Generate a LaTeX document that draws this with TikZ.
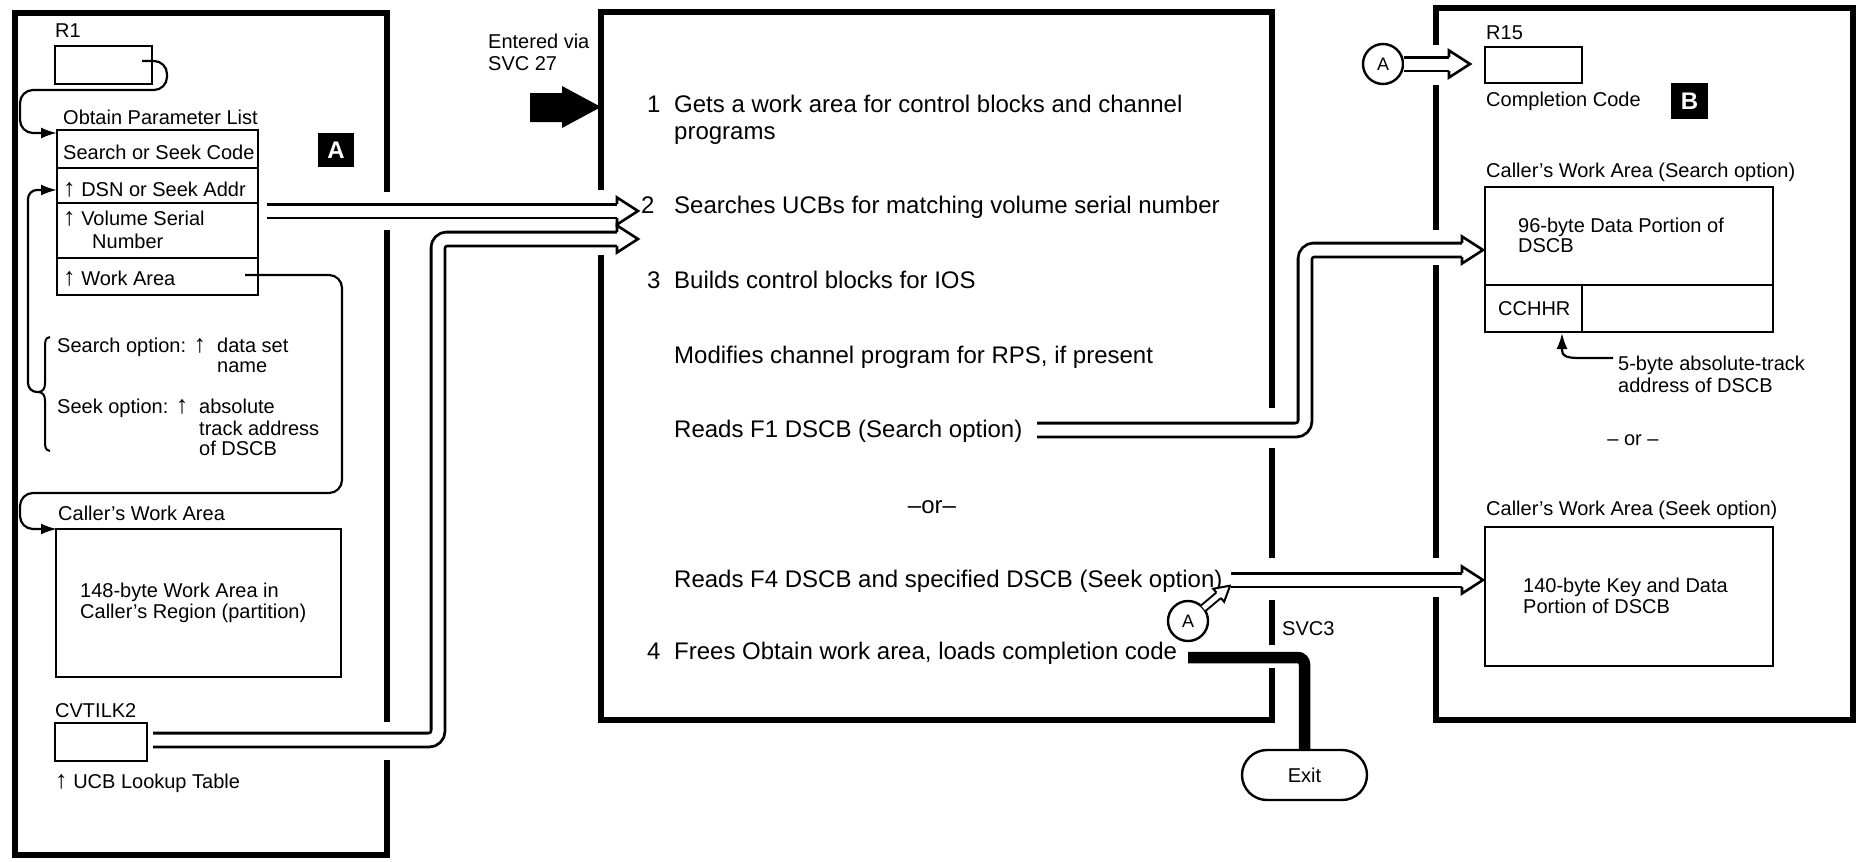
\documentclass[tikz,border=0pt]{standalone}
\usepackage{fontspec}
\setmainfont{Liberation Sans}
\usetikzlibrary{arrows.meta}
\newcommand\lrf{\fontsize{20}{21}\selectfont}
\newcommand\mdf{\fontsize{24}{26}\selectfont}
\newcommand\uarr{{\fontsize{25}{20}\selectfont ↑}}
\newcommand\hollowtip[2]{%
  \begin{scope}[shift={(#1)}, rotate=#2]
    \filldraw[fill=white, draw=black, line width=2.6, line join=miter] (-21,-7) -- (-21,-13.5) -- (0,0) -- (-21,13.5) -- (-21,7);
  \end{scope}}
\begin{document}
\begin{tikzpicture}[x=1pt,y=-1pt,
  frame/.style={line width=5.8, line join=miter},
  box/.style={draw, line width=2.4, inner sep=0, outer sep=0, anchor=north west},
  txt/.style={anchor=base west, inner sep=0, font=\lrf},
  mtxt/.style={anchor=base west, inner sep=0, font=\mdf},
  shaft/.style={draw=black, line width=2.8, double=white, double distance=11, rounded corners=9},
  shaftsmall/.style={draw=black, line width=2, double=white, double distance=5},
  conn/.style={line width=2.2, rounded corners=13, -{Latex[length=16,width=11]}},
  labelbox/.style={fill=black, text=white, font=\bfseries\fontsize{24}{24}\selectfont, minimum width=36, minimum height=34, inner sep=0},
  circ/.style={circle, draw, line width=2.4, minimum size=40, inner sep=0, font=\fontsize{18}{18}\selectfont}
]
\useasboundingbox (0,0) rectangle (1858,862);
\fill[white] (0,0) rectangle (1858,862);

% ---------------- frames
\draw[frame] (387,192) -- (387,13) -- (15,13) -- (15,855) -- (387,855) -- (387,760);
\draw[frame] (387,230) -- (387,722);
\draw[frame] (601,190) -- (601,12) -- (1272,12) -- (1272,408);
\draw[frame] (1272,448) -- (1272,558);
\draw[frame] (1272,600) -- (1272,645);
\draw[frame] (1272,668) -- (1272,720) -- (601,720) -- (601,255);
\draw[frame] (1436,45) -- (1436,8) -- (1853,8) -- (1853,720) -- (1436,720) -- (1436,597);
\draw[frame] (1436,558) -- (1436,265);
\draw[frame] (1436,230) -- (1436,85);

% ---------------- left panel
\node[txt] (tr1) at (55,37) {R1};
\node[box, minimum width=97, minimum height=38] (r1) at (55,46) {};
\node[txt] (topl) at (63,124) {Obtain Parameter List};
\node[box, minimum width=201, minimum height=38] (row1) at (57,130) {};
\node[box, minimum width=201, minimum height=35] (row2) at (57,168) {};
\node[box, minimum width=201, minimum height=55] (row3) at (57,203) {};
\node[box, minimum width=201, minimum height=37] (row4) at (57,258) {};
\node[txt] (tssc) at (63,159) {Search or Seek Code};
\node[txt] (tdsn) at (63,196) {\uarr{} DSN or Seek Addr};
\node[txt] (tvsn1) at (63,225) {\uarr{} Volume Serial};
\node[txt] (tvsn2) at (92,248) {Number};
\node[txt] (twa) at (63,285) {\uarr{} Work Area};
\node[labelbox] (labA) at (336,150) {A};

\node[txt] (tso) at (57,352) {Search option: \uarr};
\node[txt] (tso2) at (217,352) {data set};
\node[txt] (tso3) at (217,372) {name};
\node[txt] (tko) at (57,413) {Seek option: \uarr};
\node[txt] (tko2) at (199,413) {absolute};
\node[txt] (tko3) at (199,435) {track address};
\node[txt] (tko4) at (199,455) {of DSCB};
\draw[line width=2] (50,337) .. controls (45,338) and (45,341) .. (45,348) -- (45,383)
  .. controls (45,389) and (43,391) .. (39,392) .. controls (43,393) and (45,395) .. (45,401)
  -- (45,440) .. controls (45,447) and (45,450) .. (50,451);
\coordinate (bracetip) at (39,392);

\node[txt] (tcwa) at (58,520) {Caller’s Work Area};
\node[box, minimum width=285, minimum height=148] (cwa) at (56,529) {};
\node[txt] (tcwa1) at (80,597) {148-byte Work Area in};
\node[txt] (tcwa2) at (80,618) {Caller’s Region (partition)};
\node[txt] (tcvt) at (55,717) {CVTILK2};
\node[box, minimum width=92, minimum height=38] (cvt) at (55,723) {};
\node[txt] (tucb) at (55,788) {\uarr{} UCB Lookup Table};

% left connectors
\coordinate (r1s) at (142,61);
\coordinate (plt) at (57,133);
\draw[conn] (r1s) -- (167,61) -- (167,90) -- (20,90) -- (20,133) -- (plt);
\coordinate (dsnt) at (57,190);
\draw[conn, rounded corners=9] (bracetip) -- (28,392) -- (28,190) -- (dsnt);
\coordinate (was) at (245,275);
\coordinate (cwat) at (57,529);
\draw[conn] (was) -- (342,275) -- (342,493) -- (20,493) -- (20,529) -- (cwat);

% double arrows from left to middle
\coordinate (a1s) at (267,211); \coordinate (a1b) at (618,211); \coordinate (a1t) at (638,211);
\draw[shaft] (a1s) -- (a1b); \hollowtip{a1t}{0}
\coordinate (a2s) at (153,740); \coordinate (a2b) at (618,239); \coordinate (a2t) at (638,239);
\draw[shaft] (a2s) -- (438,740) -- (438,239) -- (a2b); \hollowtip{a2t}{0}

% ---------------- middle panel
\node[txt] (tent1) at (488,48) {Entered via};
\node[txt] (tent2) at (488,70) {SVC 27};
\fill (530,93) -- (562,93) -- (562,86) -- (601,107) -- (562,128) -- (562,122) -- (530,122) -- cycle;

\node[mtxt] (n1) at (647,112) {1};
\node[mtxt] (s1a) at (674,112) {Gets a work area for control blocks and channel};
\node[mtxt] (s1b) at (674,139) {programs};
\node[mtxt] (n2) at (641,213) {2};
\node[mtxt] (s2) at (674,213) {Searches UCBs for matching volume serial number};
\node[mtxt] (n3) at (647,288) {3};
\node[mtxt] (s3) at (674,288) {Builds control blocks for IOS};
\node[mtxt] (s3b) at (674,363) {Modifies channel program for RPS, if present};
\node[mtxt] (s3c) at (674,437) {Reads F1 DSCB (Search option)};
\node[mtxt, anchor=base] (sor) at (932,513) {–or–};
\node[mtxt] (s3d) at (674,587) {Reads F4 DSCB and specified DSCB (Seek option)};
\node[mtxt] (n4) at (647,659) {4};
\node[mtxt] (s4) at (674,659) {Frees Obtain work area, loads completion code};
\node[txt] (tsvc3) at (1282,635) {SVC3};

\node[circ] (cA2) at (1188,621) {A};
\begin{scope}[shift={(cA2.center)}, rotate=40]
  \draw[shaftsmall] (20,0) -- (41,0);
  \filldraw[fill=white, draw=black, line width=2, line join=miter] (40,-3.5) -- (40,-8.5) -- (55,0) -- (40,8.5) -- (40,3.5);
\end{scope}

\node[draw, line width=2.4, rounded corners=25, minimum width=125, minimum height=50, inner sep=0, font=\lrf] (exit) at (1304.5,775) {Exit};
\coordinate (exs) at (1188,657.5);
\draw[line width=11.5, rounded corners=7] (exs) -- (1304.5,657.5) -- (exit.north);

% middle to right double arrows
\coordinate (a3s) at (1037,430); \coordinate (a3b) at (1463,250); \coordinate (a3t) at (1483,250);
\draw[shaft] (a3s) -- (1305,430) -- (1305,250) -- (a3b); \hollowtip{a3t}{0}
\coordinate (a4s) at (1231,580); \coordinate (a4b) at (1463,580); \coordinate (a4t) at (1483,580);
\draw[shaft] (a4s) -- (a4b); \hollowtip{a4t}{0}

% ---------------- right panel
\node[circ] (cA1) at (1383,64) {A};
\coordinate (a5b) at (1450,64); \coordinate (a5t) at (1470,64);
\draw[shaft] (cA1.east) -- (a5b); \hollowtip{a5t}{0}

\node[txt] (tr15) at (1486,39) {R15};
\node[box, minimum width=97, minimum height=36] (r15) at (1485,47) {};
\node[txt] (tcc) at (1486,106) {Completion Code};
\node[labelbox, minimum width=37, minimum height=36] (labB) at (1689.5,101) {B};

\node[txt] (tsrch) at (1486,177) {Caller’s Work Area (Search option)};
\node[box, minimum width=288, minimum height=98] (sbox) at (1485,187) {};
\node[box, minimum width=97, minimum height=47] (cchhr) at (1485,285) {};
\node[box, minimum width=191, minimum height=47] (srest) at (1582,285) {};
\node[txt] (t96a) at (1518,232) {96-byte Data Portion of};
\node[txt] (t96b) at (1518,252) {DSCB};
\node[txt] (tcch) at (1498,315) {CCHHR};
\node[txt] (t5a) at (1618,370) {5-byte absolute-track};
\node[txt] (t5b) at (1618,392) {address of DSCB};
\coordinate (ccs) at (1613,358);
\coordinate (cct) at (1562,333);
\draw[line width=2.2, -{Latex[length=16,width=11]}] (ccs) -- (1580,358) .. controls (1566,358) and (1562,356) .. (1562,350) -- (cct);
\node[txt, anchor=base] (tor2) at (1633,445) {– or –};
\node[txt] (tseek) at (1486,515) {Caller’s Work Area (Seek option)};
\node[box, minimum width=288, minimum height=139] (kbox) at (1485,527) {};
\node[txt] (t140a) at (1523,592) {140-byte Key and Data};
\node[txt] (t140b) at (1523,613) {Portion of DSCB};
\end{tikzpicture}
\end{document}
